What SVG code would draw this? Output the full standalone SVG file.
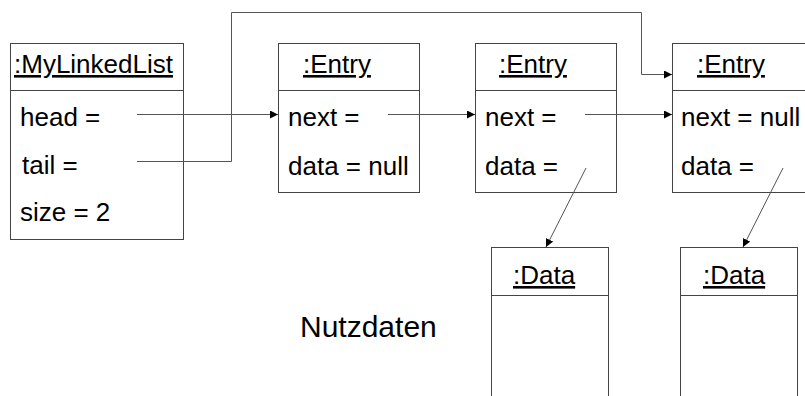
<svg xmlns="http://www.w3.org/2000/svg" width="805" height="396" viewBox="0 0 805 396">
  <defs>
    <marker id="arrow" viewBox="0 0 10 10" refX="10" refY="5" markerWidth="8" markerHeight="8" markerUnits="userSpaceOnUse" orient="auto">
      <path d="M0,0 L10,5 L0,10 z" fill="#000"/>
    </marker>
  </defs>
  <style>
    .box { fill: #fff; stroke: #444; stroke-width: 1; }
    .div { stroke: #444; stroke-width: 1; }
    .t { font-family: "Liberation Sans", Arial, sans-serif; font-size: 26px; fill: #000; }
    .title { text-decoration: underline; }
    .conn { fill: none; stroke: #555; stroke-width: 1; }
  </style>
  <rect width="805" height="396" fill="#fff"/>

  <g id="linkedlist">
    <rect class="box" x="10.5" y="43.5" width="173" height="196"/>
    <line class="div" x1="10.5" y1="90.5" x2="183.5" y2="90.5"/>
    <text class="t title" x="14" y="73">:MyLinkedList</text>
    <text class="t" x="20" y="126">head =</text>
    <text class="t" x="22" y="174">tail =</text>
    <text class="t" x="20" y="221">size = 2</text>
  </g>

  <g id="entry1">
    <rect class="box" x="278.5" y="43.5" width="141" height="149"/>
    <line class="div" x1="278.5" y1="90.5" x2="419.5" y2="90.5"/>
    <text class="t title" x="303" y="73">:Entry</text>
    <text class="t" x="288" y="126">next =</text>
    <text class="t" x="288" y="175">data = null</text>
  </g>

  <g id="entry2">
    <rect class="box" x="475.5" y="43.5" width="141" height="149"/>
    <line class="div" x1="475.5" y1="90.5" x2="616.5" y2="90.5"/>
    <text class="t title" x="499" y="73">:Entry</text>
    <text class="t" x="485" y="126">next =</text>
    <text class="t" x="485" y="175">data =</text>
  </g>

  <g id="entry3">
    <rect class="box" x="672.5" y="43.5" width="141" height="149"/>
    <line class="div" x1="672.5" y1="90.5" x2="813.5" y2="90.5"/>
    <text class="t title" x="697" y="73">:Entry</text>
    <text class="t" x="681" y="126">next = null</text>
    <text class="t" x="681" y="175">data =</text>
  </g>

  <g id="data1">
    <rect class="box" x="491.5" y="247.5" width="117" height="160"/>
    <line class="div" x1="491.5" y1="295.5" x2="608.5" y2="295.5"/>
    <text class="t title" x="513" y="284">:Data</text>
  </g>

  <g id="data2">
    <rect class="box" x="680.5" y="247.5" width="117" height="160"/>
    <line class="div" x1="680.5" y1="295.5" x2="797.5" y2="295.5"/>
    <text class="t title" x="703" y="284">:Data</text>
  </g>

  <g id="label">
    <text class="t" x="300" y="337" style="font-size:30px">Nutzdaten</text>
  </g>

  <g id="connectors">
    <path class="conn" d="M137,114.5 H278" marker-end="url(#arrow)"/>
    <path class="conn" d="M137,161.5 H231.5 V12.5 H641.5 V74.5 H672" marker-end="url(#arrow)"/>
    <path class="conn" d="M388,114.5 H475" marker-end="url(#arrow)"/>
    <path class="conn" d="M585,114.5 H672" marker-end="url(#arrow)"/>
    <path class="conn" d="M586,168 L546,247" marker-end="url(#arrow)"/>
    <path class="conn" d="M783,168 L743,247" marker-end="url(#arrow)"/>
  </g>
</svg>
